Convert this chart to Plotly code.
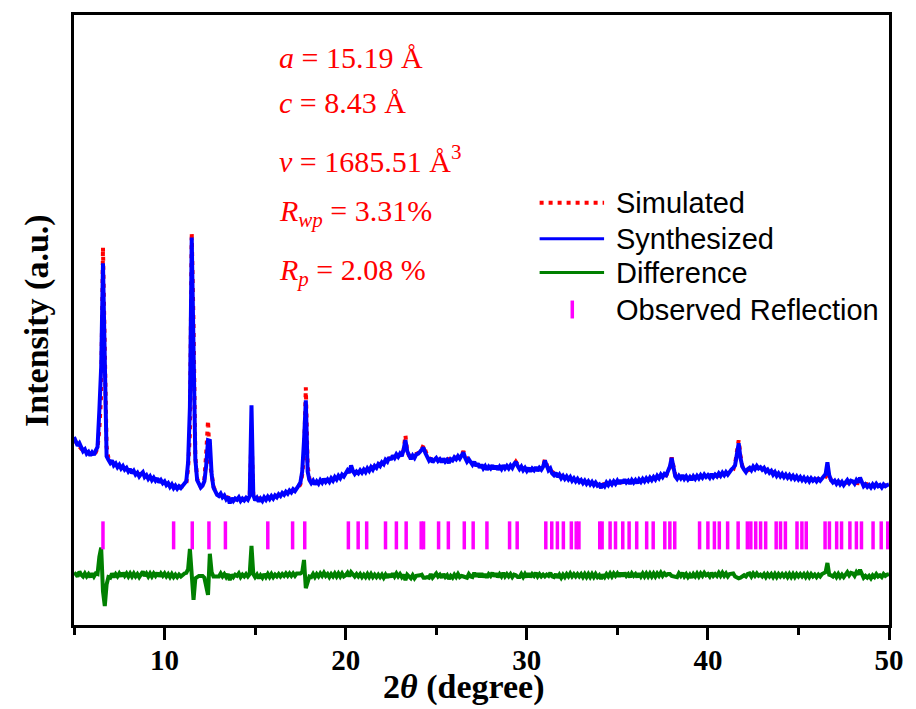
import numpy as np
import plotly.graph_objects as go

# 2-theta sampling grid (degrees), 0.1 degree step from 5 to 50
two_theta = np.round(np.linspace(5.0, 50.0, 451), 2)

# Measured pattern of the synthesized sample (a.u.)
synthesized = [
    30.6, 30.0, 29.2, 29.6, 28.8, 28.3, 28.6, 27.9, 28.2, 27.6,
    28.1, 27.7, 28.4, 29.0, 35.0, 42.0, 58.9, 40.0, 27.5, 26.9,
    26.4, 26.8, 26.0, 26.3, 25.7, 26.1, 25.5, 25.9, 25.3, 25.6,
    25.0, 25.4, 24.7, 25.1, 24.5, 24.8, 24.2, 24.6, 24.9, 24.1,
    24.4, 23.8, 24.2, 23.6, 24.0, 23.5, 23.9, 23.2, 23.6, 23.1,
    23.4, 22.8, 23.1, 22.5, 22.9, 22.3, 22.7, 22.2, 22.6, 22.3,
    22.6, 22.9, 23.4, 26.5, 35.5, 63.1, 45.0, 27.0, 23.6, 22.9,
    22.4, 22.7, 23.4, 26.0, 30.1, 30.0, 24.5, 22.4, 21.6, 21.2,
    21.0, 21.4, 20.8, 21.1, 20.5, 20.9, 19.8, 20.7, 20.2, 20.6,
    20.4, 20.8, 20.2, 20.6, 20.3, 20.7, 20.4, 21.0, 35.8, 21.2,
    20.3, 20.7, 20.1, 20.6, 20.2, 20.8, 20.4, 20.9, 20.5, 21.0,
    20.6, 21.1, 20.8, 21.3, 21.0, 21.5, 21.2, 21.7, 21.4, 21.9,
    21.6, 22.1, 21.8, 22.4, 22.7, 23.2, 25.0, 30.0, 36.6, 25.0,
    23.6, 23.1, 23.5, 22.9, 23.4, 23.0, 23.6, 23.2, 23.8, 23.3,
    23.7, 23.3, 23.9, 23.5, 24.1, 23.7, 24.3, 23.9, 24.5, 24.2,
    24.6, 25.2, 24.8, 26.0, 25.1, 24.6, 25.0, 24.7, 25.2, 24.8,
    25.3, 24.9, 25.5, 25.1, 25.7, 25.3, 25.9, 25.6, 26.2, 25.9,
    26.5, 26.2, 26.9, 26.6, 27.3, 26.9, 27.6, 27.2, 27.8, 27.4,
    27.9, 27.5, 28.6, 30.1, 28.3, 27.4, 27.0, 27.6, 27.2, 27.8,
    27.9, 28.2, 28.7, 28.9, 28.0, 27.3, 26.8, 27.2, 26.5, 26.9,
    27.2, 26.7, 27.0, 26.5, 27.1, 26.6, 26.9, 26.4, 27.0, 26.8,
    27.3, 27.0, 27.5, 27.1, 27.6, 28.1, 27.2, 26.6, 27.0, 26.4,
    26.1, 26.6, 25.9, 26.3, 25.6, 26.1, 25.5, 25.9, 25.3, 25.8,
    25.5, 26.0, 25.4, 25.9, 25.3, 25.8, 25.4, 26.0, 25.5, 25.9,
    25.5, 26.0, 25.6, 26.2, 26.6, 25.9, 25.4, 25.8, 25.2, 25.6,
    25.1, 25.6, 25.0, 25.5, 25.2, 25.7, 25.1, 25.6, 25.3, 25.8,
    26.8, 26.0, 25.2, 25.5, 24.7, 24.4, 24.8, 24.1, 24.5, 23.9,
    24.3, 23.8, 24.2, 23.7, 24.1, 23.5, 23.9, 23.4, 23.8, 23.3,
    23.6, 23.1, 23.5, 23.0, 23.4, 22.9, 23.3, 22.8, 23.2, 22.7,
    22.9, 22.3, 23.0, 22.6, 23.2, 22.8, 23.3, 22.9, 23.4, 23.0,
    23.5, 23.0, 23.6, 23.1, 23.7, 23.2, 23.5, 23.0, 23.6, 23.2,
    23.6, 23.1, 23.7, 23.3, 23.8, 23.4, 23.9, 23.5, 24.0, 23.6,
    24.1, 23.7, 24.3, 23.9, 24.5, 24.1, 24.6, 24.4, 25.0, 25.8,
    27.2, 25.3, 24.2, 23.8, 24.3, 23.9, 24.4, 23.8, 24.2, 23.7,
    24.1, 23.6, 24.2, 23.8, 24.3, 23.9, 24.4, 24.0, 24.5, 24.1,
    24.4, 24.0, 24.6, 24.1, 24.5, 24.2, 24.7, 24.3, 24.8, 24.4,
    24.9, 24.5, 25.0, 25.3, 25.6, 26.0, 27.8, 29.6, 27.2, 25.8,
    25.3, 24.9, 25.4, 25.6, 25.2, 25.8, 25.4, 25.9, 25.5, 25.7,
    25.3, 25.6, 25.0, 25.3, 24.8, 25.1, 24.5, 24.9, 24.3, 24.7,
    24.2, 24.6, 24.1, 24.5, 24.0, 24.4, 23.9, 24.3, 23.8, 24.2,
    23.7, 24.1, 23.6, 24.0, 23.5, 23.9, 23.4, 23.9, 23.5, 23.8,
    23.4, 23.8, 23.5, 23.9, 24.1, 24.6, 26.5, 24.4, 23.6, 23.2,
    23.5, 23.0, 23.4, 22.9, 23.3, 22.8, 23.2, 23.6, 23.1, 23.5,
    23.4, 23.0, 23.6, 23.2, 24.0, 23.3, 22.6, 22.9, 22.5, 22.8,
    22.4, 22.9, 22.5, 23.0, 22.6, 22.8, 22.4, 22.9, 22.6, 22.8,
    22.9,
]

# Calculated (refined) pattern (a.u.)
simulated = [
    30.2, 29.8, 29.4, 29.0, 28.7, 28.5, 28.3, 28.1, 28.0, 27.9,
    27.8, 27.9, 28.1, 28.8, 32.0, 37.5, 61.5, 45.0, 29.0, 27.2,
    26.8, 26.5, 26.3, 26.1, 25.9, 25.8, 25.7, 25.5, 25.4, 25.3,
    25.2, 25.1, 24.9, 24.8, 24.7, 24.6, 24.5, 24.4, 24.3, 24.2,
    24.1, 24.0, 23.9, 23.8, 23.7, 23.6, 23.5, 23.4, 23.3, 23.2,
    23.1, 23.0, 22.9, 22.8, 22.7, 22.6, 22.6, 22.5, 22.5, 22.5,
    22.5, 22.6, 23.0, 25.5, 31.2, 63.9, 49.0, 27.5, 23.8, 23.0,
    22.5, 22.8, 23.8, 28.0, 33.3, 26.5, 24.0, 22.6, 21.8, 21.4,
    21.2, 21.1, 21.0, 20.9, 20.8, 20.7, 20.6, 20.6, 20.5, 20.5,
    20.5, 20.5, 20.5, 20.5, 20.5, 20.5, 20.6, 20.8, 31.0, 21.0,
    20.6, 20.6, 20.6, 20.6, 20.6, 20.6, 20.7, 20.7, 20.8, 20.8,
    20.9, 21.0, 21.0, 21.1, 21.2, 21.3, 21.3, 21.4, 21.5, 21.6,
    21.7, 21.8, 21.9, 22.1, 22.4, 22.9, 24.5, 27.5, 38.7, 26.0,
    23.8, 23.4, 23.3, 23.2, 23.2, 23.2, 23.3, 23.3, 23.4, 23.4,
    23.5, 23.6, 23.7, 23.7, 23.8, 23.9, 24.0, 24.1, 24.2, 24.4,
    24.6, 24.8, 25.0, 25.5, 25.0, 24.8, 24.8, 24.9, 25.0, 25.1,
    25.2, 25.2, 25.3, 25.4, 25.5, 25.6, 25.8, 25.9, 26.1, 26.2,
    26.4, 26.6, 26.8, 27.0, 27.1, 27.2, 27.3, 27.4, 27.5, 27.6,
    27.7, 27.8, 28.5, 30.9, 28.2, 27.6, 27.5, 27.6, 27.7, 27.9,
    28.0, 28.2, 28.6, 29.3, 28.4, 27.6, 27.2, 27.0, 26.9, 26.9,
    26.9, 26.9, 26.9, 26.9, 26.9, 26.9, 26.9, 27.0, 27.1, 27.2,
    27.2, 27.3, 27.3, 27.4, 27.7, 28.3, 27.5, 27.0, 26.8, 26.6,
    26.4, 26.2, 26.1, 26.0, 25.9, 25.8, 25.8, 25.7, 25.7, 25.6,
    25.6, 25.6, 25.6, 25.6, 25.6, 25.6, 25.6, 25.6, 25.7, 25.7,
    25.7, 25.8, 25.9, 26.1, 26.6, 26.2, 25.7, 25.6, 25.5, 25.4,
    25.4, 25.3, 25.3, 25.3, 25.3, 25.3, 25.3, 25.4, 25.5, 25.7,
    27.0, 25.9, 25.3, 25.1, 24.9, 24.7, 24.6, 24.5, 24.4, 24.3,
    24.2, 24.1, 24.0, 23.9, 23.8, 23.7, 23.7, 23.6, 23.6, 23.5,
    23.4, 23.4, 23.3, 23.3, 23.2, 23.2, 23.1, 23.1, 23.0, 23.0,
    22.9, 22.9, 22.9, 22.9, 23.0, 23.0, 23.0, 23.1, 23.1, 23.1,
    23.2, 23.2, 23.2, 23.3, 23.3, 23.3, 23.3, 23.3, 23.3, 23.3,
    23.4, 23.4, 23.4, 23.5, 23.5, 23.6, 23.6, 23.7, 23.7, 23.8,
    23.8, 23.9, 24.0, 24.0, 24.1, 24.2, 24.3, 24.4, 24.8, 25.6,
    27.3, 25.5, 24.4, 24.1, 24.0, 24.0, 24.0, 24.0, 24.0, 24.0,
    24.0, 24.0, 24.0, 24.0, 24.0, 24.1, 24.1, 24.1, 24.1, 24.1,
    24.2, 24.2, 24.2, 24.2, 24.3, 24.3, 24.3, 24.4, 24.4, 24.5,
    24.6, 24.7, 24.8, 25.0, 25.3, 26.2, 28.2, 30.1, 27.6, 25.9,
    25.3, 25.1, 25.2, 25.3, 25.4, 25.5, 25.5, 25.6, 25.6, 25.6,
    25.5, 25.4, 25.3, 25.1, 25.0, 24.9, 24.8, 24.7, 24.6, 24.5,
    24.4, 24.4, 24.3, 24.3, 24.3, 24.2, 24.2, 24.1, 24.1, 24.0,
    23.9, 23.9, 23.8, 23.8, 23.8, 23.7, 23.7, 23.7, 23.7, 23.7,
    23.7, 23.7, 23.7, 23.7, 23.8, 24.1, 24.5, 24.3, 23.6, 23.4,
    23.3, 23.3, 23.2, 23.2, 23.2, 23.1, 23.1, 23.1, 23.1, 23.1,
    23.1, 23.1, 23.1, 23.1, 23.1, 23.0, 23.0, 23.0, 22.9, 22.9,
    22.9, 22.9, 22.8, 22.8, 22.8, 22.8, 22.7, 22.7, 22.7, 22.7,
    22.7,
]

# Bragg reflection positions (2-theta, degrees)
reflections = [
    6.60, 10.50, 11.53, 12.45, 13.36, 15.70, 17.07, 17.74, 20.15, 20.69,
    21.16, 22.20, 22.80, 23.34, 24.17, 24.30, 25.13, 25.67, 26.55, 27.04,
    27.80, 29.05, 29.47, 31.05, 31.38, 31.69, 32.02, 32.46, 32.73, 32.88,
    34.03, 34.16, 34.60, 34.90, 35.30, 35.65, 36.07, 36.62, 36.98, 37.62,
    37.90, 38.17, 39.54, 40.00, 40.36, 40.63, 41.09, 41.67, 42.18, 42.37,
    42.64, 42.91, 43.19, 43.77, 44.01, 44.28, 44.92, 45.19, 45.43, 46.47,
    46.71, 47.11, 47.38, 47.84, 48.20, 48.48, 49.12, 49.57, 49.93,
]

DIFF_OFFSET = 8.1      # vertical offset of the difference curve
TICK_LEVEL = 14.6      # vertical level of the reflection markers
Y_MAX = 99.35

obs = np.array(synthesized)
calc = np.array(simulated)
difference = obs - calc + DIFF_OFFSET

RED, BLUE, GREEN, MAGENTA = "#FF0000", "#0000FF", "#008000", "#FF00FF"
SERIF = "Liberation Serif, Times New Roman, serif"
SANS = "Liberation Sans, Arial, sans-serif"

fig = go.Figure()
fig.add_trace(go.Scatter(x=two_theta, y=calc, mode="lines", name="Simulated",
                         line=dict(color=RED, width=4, dash="4px,5px")))
fig.add_trace(go.Scatter(x=two_theta, y=obs, mode="lines", name="Synthesized",
                         line=dict(color=BLUE, width=4)))
fig.add_trace(go.Scatter(x=two_theta, y=difference, mode="lines", name="Difference",
                         line=dict(color=GREEN, width=4)))
fig.add_trace(go.Scatter(x=reflections, y=[TICK_LEVEL] * len(reflections),
                         mode="markers", name="Observed Reflection",
                         marker=dict(symbol="line-ns", size=20,
                                     line=dict(color=MAGENTA, width=3.5))))

fig.update_layout(
    width=916, height=709,
    margin=dict(l=74, r=21, t=14, b=84),
    paper_bgcolor="white", plot_bgcolor="white",
    showlegend=False,
    xaxis=dict(
        range=[5, 50], tickmode="array", tickvals=[10, 20, 30, 40, 50],
        ticks="outside", ticklen=12, tickwidth=2.5, tickcolor="black",
        showline=True, linecolor="black", linewidth=2.5, mirror=True,
        showgrid=False, zeroline=False, ticklabelstandoff=-5,
        tickfont=dict(family=SERIF, size=29, color="black", weight="bold"),
        minor=dict(tickvals=[5, 15, 25, 35, 45], ticks="outside", ticklen=7,
                   tickwidth=2.5, tickcolor="black", showgrid=False),
    ),
    yaxis=dict(
        range=[0, Y_MAX], showticklabels=False, ticks="",
        showline=True, linecolor="black", linewidth=2.5, mirror=True,
        showgrid=False, zeroline=False,
    ),
)

# Axis titles
fig.add_annotation(text="<b>2<i>θ</i> (degree)</b>", xref="paper", yref="paper",
                   x=0.4775, y=-0.1020, xanchor="center", yanchor="middle",
                   showarrow=False, font=dict(family=SERIF, size=34, color="black"))
fig.add_annotation(text="<b>Intensity (a.u.)</b>", xref="paper", yref="paper",
                   x=-0.0463, y=0.499, xanchor="center", yanchor="middle",
                   textangle=-90, showarrow=False,
                   font=dict(family=SERIF, size=34, color="black"))

# Refinement results
results = [
    ("<i>a</i> = 15.19 Å", 0.930),
    ("<i>c</i> = 8.43 Å", 0.857),
    ("<i>v</i> = 1685.51 Å<sup>3</sup>", 0.764),
    ("<i>R</i><sub><i>wp</i></sub> = 3.31%", 0.676),
    ("<i>R</i><sub><i>p</i></sub> = 2.08 %", 0.578),
]
for txt, yy in results:
    fig.add_annotation(text=txt, xref="paper", yref="paper", x=0.2485, y=yy,
                       xanchor="left", yanchor="middle", showarrow=False,
                       font=dict(family=SERIF, size=30, color=RED))

# Legend drawn as shapes and labels
legend_rows = [
    ("Simulated", 0.6923, dict(color=RED, width=4, dash="4px,5px"), "line"),
    ("Synthesized", 0.6334, dict(color=BLUE, width=3), "line"),
    ("Difference", 0.5777, dict(color=GREEN, width=3), "line"),
    ("Observed Reflection", 0.5172, dict(color=MAGENTA, width=3.5), "bar"),
]
for label, yy, style, kind in legend_rows:
    if kind == "line":
        fig.add_shape(type="line", xref="paper", yref="paper",
                      x0=0.5713, x1=0.6504, y0=yy, y1=yy, line=style)
    else:
        fig.add_shape(type="line", xref="paper", yref="paper",
                      x0=0.6114, x1=0.6114, y0=yy - 0.0147, y1=yy + 0.0147,
                      line=style)
    fig.add_annotation(text=label, xref="paper", yref="paper", x=0.6626, y=yy,
                       xanchor="left", yanchor="middle", showarrow=False,
                       font=dict(family=SANS, size=29, color="black"))

fig.write_html("out.html")
